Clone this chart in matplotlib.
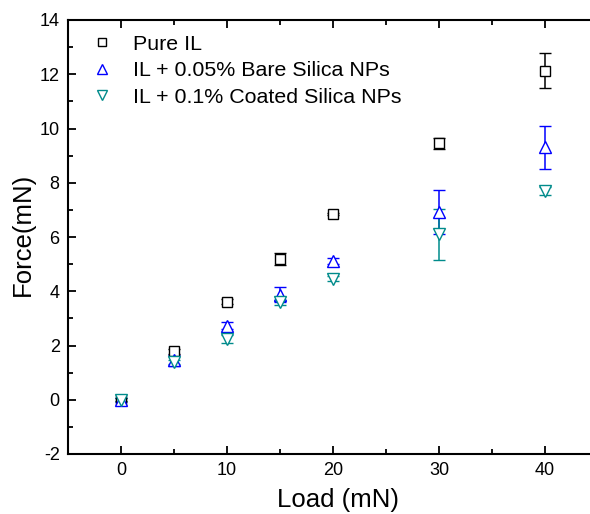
import matplotlib
matplotlib.use("Agg")
import matplotlib.pyplot as plt
from matplotlib.ticker import MultipleLocator
from matplotlib.lines import Line2D

plt.rcParams['font.family'] = ['Liberation Sans', 'DejaVu Sans']
plt.rcParams['axes.unicode_minus'] = False

load = [0, 5, 10, 15, 20, 30, 40]
pure_il = [0.0, 1.78, 3.62, 5.2, 6.85, 9.46, 12.13]
pure_il_err = [0.05, 0.1, 0.1, 0.22, 0.05, 0.2, 0.64]
bare = [0.0, 1.45, 2.73, 3.87, 5.12, 6.92, 9.3]
bare_err = [0.08, 0.2, 0.12, 0.27, 0.12, 0.8, 0.8]
coated = [0.0, 1.4, 2.25, 3.59, 4.46, 6.1, 7.7]
coated_err = [0.05, 0.08, 0.15, 0.08, 0.1, 0.95, 0.15]

labels = ['Pure IL', 'IL + 0.05% Bare Silica NPs', 'IL + 0.1% Coated Silica NPs']
colors = ['black', '#0000FF', '#008B8B']

fig = plt.figure(figsize=(5.9, 5.14), dpi=100)
ax = fig.add_axes([68/590, 1-454/514, 530/590, 434/514])

series = [(pure_il, pure_il_err, 's', 6.5), (bare, bare_err, '^', 8.5), (coated, coated_err, 'v', 8.5)]
handles = []
for (vals, errs, mk, ms), lab, col in zip(series, labels, colors):
    ax.errorbar(load, vals, yerr=errs, fmt=mk, color=col, ecolor=col, mfc='white', mec=col,
                ms=ms, mew=1.0, elinewidth=1.1, capsize=4.5, capthick=1.1, zorder=3)
    handles.append(Line2D([], [], ls='none', marker=mk, mfc='white', mec=col,
                          ms=ms * 0.85, mew=1.0, label=lab))

ax.set_xlim(-5, 45)
ax.set_ylim(-2, 14)
ax.xaxis.set_major_locator(MultipleLocator(10))
ax.xaxis.set_minor_locator(MultipleLocator(5))
ax.yaxis.set_major_locator(MultipleLocator(2))
ax.yaxis.set_minor_locator(MultipleLocator(1))
ax.tick_params(which='both', direction='in', top=True, right=True, width=1.3, labelsize=13, pad=6)
ax.tick_params(which='major', length=6)
ax.tick_params(which='minor', length=3.5)
for s in ax.spines.values():
    s.set_linewidth(1.5)

ax.set_xlabel('Load (mN)', fontsize=18.5)
ax.set_ylabel('Force(mN)', fontsize=18.5)
ax.xaxis.set_label_coords(0.509, -0.079)
ax.yaxis.set_label_coords(-0.062, 0.507)

ax.legend(handles=handles, loc='upper left', frameon=False, fontsize=15.4, handletextpad=0.7,
          borderaxespad=0.3, labelspacing=0.35, handlelength=1.5,
          bbox_to_anchor=(0.006, 1.0))

fig.savefig('out.png', dpi=100)
